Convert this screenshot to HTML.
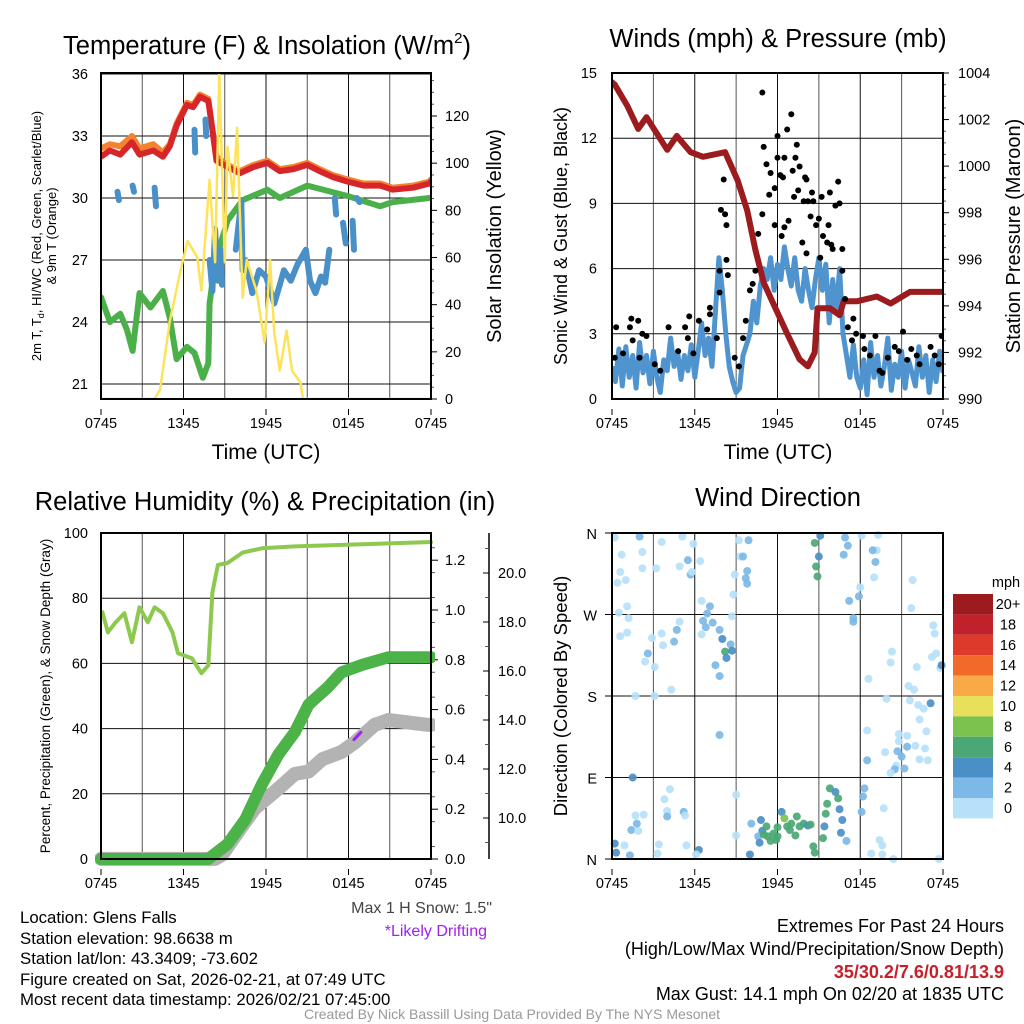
<!DOCTYPE html>
<html><head><meta charset="utf-8"><style>
html,body{margin:0;padding:0;background:#fff}
svg{display:block;font-family:"Liberation Sans",Arial,sans-serif}
</style></head><body>
<svg id="fig" width="1024" height="1024" viewBox="0 0 1024 1024" xmlns="http://www.w3.org/2000/svg">
<defs>
<clipPath id="c1"><rect x="101" y="73" width="330" height="326"/></clipPath>
<clipPath id="c2"><rect x="612" y="73" width="331" height="326"/></clipPath>
<clipPath id="c3"><rect x="95" y="533" width="340" height="333"/></clipPath>
<clipPath id="c4"><rect x="606" y="527" width="343" height="338"/></clipPath>
</defs>
<!-- titles -->
<text x="267" y="54" font-size="25.5" text-anchor="middle">Temperature (F) &amp; Insolation (W/m<tspan font-size="15" dy="-11">2</tspan><tspan dy="11">)</tspan></text>
<text x="778" y="47" font-size="25.5" text-anchor="middle">Winds (mph) &amp; Pressure (mb)</text>
<text x="265" y="510" font-size="25.5" text-anchor="middle">Relative Humidity (%) &amp; Precipitation (in)</text>
<text x="778" y="506" font-size="25.5" text-anchor="middle">Wind Direction</text>
<!-- axis titles -->
<text x="266" y="459" font-size="21" text-anchor="middle">Time (UTC)</text>
<text x="778" y="459" font-size="21" text-anchor="middle">Time (UTC)</text>
<text transform="translate(41,236) rotate(-90)" font-size="13" text-anchor="middle">2m T, T<tspan font-size="9" dy="3">d</tspan><tspan dy="-3">, HI/WC (Red, Green, Scarlet/Blue)</tspan></text>
<text transform="translate(56,236) rotate(-90)" font-size="13" text-anchor="middle">&amp; 9m T (Orange)</text>
<text transform="translate(501,236) rotate(-90)" font-size="20" text-anchor="middle">Solar Insolation (Yellow)</text>
<text transform="translate(567,236) rotate(-90)" font-size="18" text-anchor="middle">Sonic Wind &amp; Gust (Blue, Black)</text>
<text transform="translate(1020,236) rotate(-90)" font-size="20" text-anchor="middle">Station Pressure (Maroon)</text>
<text transform="translate(50,696) rotate(-90)" font-size="13.5" text-anchor="middle">Percent, Precipitation (Green), &amp; Snow Depth (Gray)</text>
<text transform="translate(567,696) rotate(-90)" font-size="18.5" text-anchor="middle">Direction (Colored By Speed)</text>
<!-- notes -->
<text x="492" y="913" font-size="16" fill="#444" text-anchor="end">Max 1 H Snow: 1.5"</text>
<text x="487" y="936" font-size="16" fill="#a020f0" text-anchor="end">*Likely Drifting</text>
<g font-size="16.8">
<text x="20" y="923">Location: Glens Falls</text>
<text x="20" y="944">Station elevation: 98.6638 m</text>
<text x="20" y="964">Station lat/lon: 43.3409; -73.602</text>
<text x="20" y="985">Figure created on Sat, 2026-02-21, at 07:49 UTC</text>
<text x="20" y="1005">Most recent data timestamp: 2026/02/21 07:45:00</text>
</g>
<g font-size="18" text-anchor="end">
<text x="1004" y="932">Extremes For Past 24 Hours</text>
<text x="1004" y="955">(High/Low/Max Wind/Precipitation/Snow Depth)</text>
<text x="1004" y="978" fill="#c8202a" font-weight="bold">35/30.2/7.6/0.81/13.9</text>
<text x="1004" y="1000">Max Gust: 14.1 mph On 02/20 at 1835 UTC</text>
</g>
<text x="512" y="1019" font-size="14" fill="#999" text-anchor="middle">Created By Nick Bassill Using Data Provided By The NYS Mesonet</text>
</svg>
<script>
// ---------- data ----------
const timeTickLabels = ["0745","1345","1945","0145","0745"];
const timeTickHours = [0,6,12,18,24];
const tempTicks = [21,24,27,30,33,36];
const solarTicks = [0,20,40,60,80,100,120];
const windTicks = [0,3,6,9,12,15];
const pressTicks = [990,992,994,996,998,1000,1002,1004];
const rhTicks = [0,20,40,60,80,100];
const precipTicks = [0,0.2,0.4,0.6,0.8,1.0,1.2];
const snowTicks = [10,12,14,16,18,20];
const dirTickLabels = ["N","E","S","W","N"];
const dirTickDeg = [0,90,180,270,360];

const redT = [0,0.65,1.4,2.25,2.8,3.8,4.5,5.0,5.5,6.25,6.7,7.2,7.8,8.1,8.4,9.2,10.1,11.1,12.1,13.0,14.0,15.0,15.9,16.9,17.9,19.1,20.3,21.2,22.7,23.9,24];
const redV = [32.0,32.3,32.1,32.7,32.1,32.3,32.0,32.5,33.5,34.5,34.4,34.9,34.7,33.3,31.8,31.5,31.2,31.5,31.7,31.3,31.4,31.6,31.3,31.0,30.8,30.6,30.6,30.4,30.5,30.7,30.8];
const orangeV = [32.4,32.6,32.5,33.0,32.4,32.6,32.2,32.6,33.6,34.6,34.5,35.0,34.8,33.3,32.0,31.6,31.3,31.6,31.8,31.4,31.5,31.7,31.4,31.1,30.9,30.7,30.7,30.5,30.6,30.8,30.9];
const greenT = [0,0.65,1.4,1.9,2.3,2.8,3.6,4.5,5.0,5.5,6.25,6.8,7.4,7.8,7.9,8.3,9.2,10.3,12.1,13.0,15.0,17.9,20.3,21.2,23.9,24];
const greenV = [25.2,24.0,24.4,23.6,22.6,25.4,24.7,25.5,24.2,22.2,22.8,22.5,21.3,22.0,24.9,26.9,28.9,29.9,30.4,30.0,30.6,30.1,29.6,29.8,30.0,30.0];
const blueT = [1.2,1.3,null,2.3,2.4,null,3.9,4.0,null,6.8,6.85,null,7.6,7.65,null,7.9,8.1,8.3,8.5,8.7,8.8,null,9.8,10.2,10.3,10.5,11.0,11.5,12.0,12.6,13.0,13.3,13.8,14.3,14.9,15.2,15.6,16.0,16.3,16.6,null,17.0,17.1,null,17.6,17.8,null,18.3,18.4,null,18.6,18.8];
const blueV = [30.3,29.9,null,30.6,30.3,null,30.5,29.6,null,33.3,32.2,null,33.8,33.0,null,27.0,25.5,28.5,26.0,27.5,25.8,null,27.5,29.9,26.5,27.0,25.4,26.5,26.2,24.9,25.8,26.5,26.0,26.8,27.5,26.0,25.4,26.2,25.9,27.5,null,30.0,29.2,null,28.8,27.8,null,28.9,27.5,null,30.0,29.8];
const solarT = [0,3.9,4.3,5.0,5.8,6.3,7.0,7.3,7.9,8.3,8.6,9.0,9.2,9.6,9.9,10.3,10.6,11.3,11.9,12.3,12.6,13.0,13.5,13.9,14.5,14.7,24];
const solarV = [0,0,4,33,55,67,60,46,93,58,138,58,107,86,115,43,59,46,24,59,28,12,29,12,7,0,0];

const windV = [1.5,0.8,2.3,0.6, 2.4,1.0,2.0,0.5, 2.6,1.2,2.0,0.7, 2.2,1.0,0.3,1.8, 1.3,2.8,1.5,2.2, 0.9,2.0,1.3,2.5, 1.0,2.2,3.5,2.0, 2.8,1.5,4.0,6.5, 5.0,3.0,1.5,0.8, 0.3,0.5,2.0,2.5, 3.0,4.5,3.5,5.2, 6.0,5.5,6.5,5.0, 6.2,5.5,7.0,6.0, 5.2,6.5,5.0,4.5, 6.0,5.0,4.2,5.5, 6.5,5.0,6.2,3.5, 5.5,4.0,6.0,3.0, 2.0,1.0,2.5,1.0, 0.5,1.8,0.2,2.6, 1.0,2.0,0.6,1.5, 2.8,0.4,1.6,1.0, 2.2,0.5,1.8,1.2, 0.6,2.4,1.0,2.0, 0.3,1.8,0.8,2.2, 1.2];
const gustT = [0.3,0.2,0.8,1.3,1.4,1.9,1.5,2.2,2.5,2.0,3.1,3.5,4.1,4.8,5.3,5.6,5.5,6.3,5.9,6.9,7.1,7.1,7.6,7.8,7.8,7.9,8.1,8.2,8.3,8.3,8.4,8.9,9.2,9.5,9.7,10.0,10.2,10.4,10.6,10.9,10.9,11.0,11.2,11.4,11.5,11.8,11.8,12.0,12.0,12.2,12.3,12.4,12.5,12.5,12.7,12.8,13.0,13.1,13.2,13.3,13.4,13.5,13.6,13.8,13.9,14.0,14.1,14.1,14.2,14.4,14.5,14.6,14.8,15.0,15.1,15.2,15.3,15.6,15.7,15.8,15.9,16.0,16.2,16.4,16.5,16.7,16.7,16.9,17.1,17.5,17.4,17.7,18.2,18.3,18.7,19.1,19.4,19.6,20.0,20.5,20.8,21.1,21.4,21.7,22.1,22.3,23.1,23.4,23.7,23.9];
const gustV = [3.3,1.9,2.1,3.3,3.7,3.6,2.7,3.0,2.9,1.9,1.6,1.3,3.3,2.2,3.3,3.8,2.8,3.6,2.1,3.2,4.2,3.9,2.8,4.9,5.9,8.7,10.1,8.5,8.0,6.4,5.7,1.9,1.5,2.8,3.6,5.0,5.3,5.9,7.6,8.5,14.1,11.6,10.8,9.4,10.4,8.0,9.7,11.1,12.1,10.3,7.5,10.2,7.9,11.1,12.4,8.2,13.1,10.5,9.3,11.1,11.7,9.6,10.7,7.2,9.1,10.2,6.7,10.1,9.1,8.4,9.5,9.1,8.0,8.3,6.5,9.3,7.5,7.2,8.0,9.5,7.1,6.9,8.9,10.0,9.0,6.9,5.9,4.6,3.3,3.7,2.7,3.0,2.9,2.3,2.0,2.9,1.3,1.2,1.9,2.4,2.2,3.1,1.8,2.3,2.0,1.6,2.4,2.0,1.6,2.9];
const pressT = [0,0.2,1.1,1.9,2.5,4.0,4.7,5.7,6.6,8.2,9.1,9.8,10.4,11.0,12.0,12.7,13.6,14.2,14.7,14.9,15.8,16.5,16.8,17.8,19.2,20.2,21.6,24];
const pressV = [1003.6,1003.5,1002.6,1001.6,1002.1,1000.7,1001.3,1000.6,1000.4,1000.6,999.4,998.1,996.4,995.0,993.7,992.8,991.7,991.4,992.0,993.9,993.9,993.6,994.2,994.2,994.4,994.1,994.6,994.6];

const rhT = [0.1,0.5,1.0,1.7,2.25,2.8,3.4,3.9,4.5,5.2,5.6,6.6,7.3,7.8,8.1,8.5,9.2,10.3,11.7,14.1,23.8,24];
const rhV = [75.7,69.5,72.3,75.4,66.5,77.2,72.6,77.2,75.4,69.5,63.1,61.6,57.0,59.4,81.8,90.2,90.8,94.0,95.3,95.9,97.2,97.2];
const precipT = [0,7.8,9.2,10.5,11.7,12.9,14.1,15.1,16.5,17.5,19.0,20.9,23.8,24];
const precipV = [0,0,0.06,0.16,0.30,0.42,0.51,0.62,0.69,0.75,0.78,0.81,0.81,0.81];
const snowT = [0,8.3,8.8,10.3,11.2,12.7,14.1,15.1,16.1,17.5,18.5,19.9,20.9,23.8,24];
const snowV = [8.33,8.33,8.5,9.7,10.4,11.1,11.8,11.9,12.4,12.7,13.1,13.8,14.0,13.8,13.8];
const driftT = [18.4,18.9];
const driftV = [13.2,13.5];

const dirT = [0.2,2.0,0.7,2.2,3.6,5.1,5.9,0.6,0.4,1.0,2.2,3.2,4.9,5.5,5.7,5.8,6.4,9.2,9.9,9.3,9.5,8.9,9.8,9.7,9.8,8.8,1.1,0.5,1.2,0.6,1.1,6.5,7.1,6.9,6.6,7.3,6.8,7.8,8.0,8.6,8.2,8.3,8.7,6.5,7.5,7.8,8.7,2.9,2.6,2.4,3.1,3.6,3.7,4.5,4.7,4.9,4.3,1.7,3.1,7.8,1.5,4.2,3.8,4.0,4.0,5.2,5.3,1.7,2.3,1.8,1.4,1.9,0.2,0.9,0.3,1.3,3.4,3.3,5.4,6.3,6.1,9.0,9.0,10.0,10.1,10.8,10.9,10.6,10.7,11.2,11.3,11.7,11.9,12.0,12.3,12.5,12.7,12.9,13.0,13.3,13.4,13.6,13.9,14.2,14.4,14.6,14.7,11.0,11.5,12.0,15.3,15.4,15.5,15.6,15.8,16.2,16.4,16.5,16.7,16.6,17.0,18.3,18.2,18.1,19.7,19.4,19.6,18.8,19.6,20.4,23.7,14.7,15.1,15.0,14.8,14.9,16.9,17.1,16.8,18.1,19.3,19.2,18.9,19.1,19.0,18.0,17.9,17.2,17.5,17.5,21.8,21.7,20.3,20.2,22.1,18.6,21.5,21.9,19.9,21.6,22.2,22.6,23.1,22.3,22.8,20.8,21.4,18.5,20.8,22.0,21.4,20.7,21.0,19.8,22.7,22.3,22.9,20.6,21.2,20.5,20.2,18.5,23.3,23.4,23.2,23.5,23.8,23.9];
const dirDeg = [355,356,336,339,350,356,348,317,305,308,321,321,323,330,314,317,329,352,352,334,334,314,318,310,304,292,279,272,266,246,250,285,279,271,263,261,256,253,243,237,229,222,230,248,214,202,268,244,227,218,212,249,236,240,253,262,187,180,180,137,90,77,66,53,47,52,48,48,49,39,32,31,17,15,7,4,16,6,15,10,5,71,26,5,39,43,31,25,18,36,25,28,21,35,52,45,36,32,39,26,47,36,39,37,38,14,7,27,20,25,23,36,50,61,78,74,67,55,43,29,20,78,69,52,56,21,15,6,5,0,0,349,357,334,323,312,355,346,336,357,358,341,341,328,311,300,290,285,262,266,308,277,229,217,212,199,191,187,177,175,170,166,172,154,141,138,136,142,130,125,124,119,113,118,122,110,109,103,100,99,95,109,258,249,223,227,211,214];
const dirSpd = [1,3,1,1,1,1,1,1,1,1,1,1,1,3,3,1,1,1,3,1,3,1,3,3,3,1,1,1,1,1,1,1,3,3,3,3,3,3,5,3,7,5,5,1,3,3,1,1,3,1,1,1,1,3,3,1,1,1,1,3,5,1,1,1,3,3,1,1,1,3,3,1,5,1,5,3,1,1,1,5,1,1,1,5,3,5,5,3,5,7,7,7,7,7,5,9,7,7,7,7,7,7,7,5,7,7,7,7,7,7,7,5,7,7,7,5,7,5,5,5,3,3,3,3,1,1,1,1,1,1,1,7,5,5,7,7,3,3,3,1,1,1,3,3,1,1,3,3,3,3,1,1,1,1,1,1,1,1,1,1,1,1,5,1,1,1,1,1,1,1,3,3,3,1,1,1,1,1,3,3,1,3,1,1,1,1,1,5];
const cbarLabels = ["20+","18","16","14","12","10","8","6","4","2","0"];
const cbarColors = ["#9b1b1e","#c0222b","#de3a2b","#f26a2a","#f9a948","#e8e05a","#7bc24f","#4ba874","#4a8fc6","#7cb9e6","#b6e1f8"];

// ---------- scales ----------
const xs1 = t => 101 + t/24*330;
const xs2 = t => 612 + t/24*331;
const yT = v => 74 + (36 - v)*62/3;
const ySol = s => 399 - s*283/120;
const yW = v => 399 - v*326/15;
const yPr = p => 399 - (p - 990)*326/14;
const yRH = r => 859 - r*3.26;
const yPc = p => 859 - p*249;
const ySn = s => 818 - (s - 10)*24.5;
const yDir = d => 859 - d*326/360;
const spdColor = s => cbarColors[10 - Math.min(10, Math.floor(s/2))];

const NS = "http://www.w3.org/2000/svg";
const svg = document.getElementById("fig");
function mk(tag, attrs, parent){
  const e = document.createElementNS(NS, tag);
  for (const k in attrs) e.setAttribute(k, attrs[k]);
  (parent || svg).appendChild(e);
  return e;
}
function pathD(ts, vs, fx, fy){
  let d = "", pen = false;
  for (let i=0;i<ts.length;i++){
    if (ts[i]===null || vs[i]===null){ pen=false; continue; }
    d += (pen ? "L" : "M") + fx(ts[i]).toFixed(1) + "," + fy(vs[i]).toFixed(1);
    pen = true;
  }
  return d;
}
function lbl(x, y, s, anchor, size, fill){
  const t = mk("text", {x:x, y:y, "font-size":size||14.5, "text-anchor":anchor||"middle", fill:fill||"#000"});
  t.textContent = s;
  return t;
}
function line(x1,y1,x2,y2,stroke,w){
  return mk("line",{x1:x1,y1:y1,x2:x2,y2:y2,stroke:stroke||"#000","stroke-width":w||1});
}

// ---------- grids & frames ----------
function timeGrid(x0, w, yTop, yBot, name){
  const g = mk("g", {});
  
  
  for (let k=1;k<8;k++){
    const x = x0 + k*w/8;
    mk("line",{x1:x,y1:yTop,x2:x,y2:yBot,stroke:(k%2? "#555":"#111"),"stroke-width":1},g);
  }
  return g;
}
function timeLabels(fx, y, name){
  for (let i=0;i<timeTickHours.length;i++){
    const t = lbl(fx(timeTickHours[i]), y, timeTickLabels[i], "middle", 14.5);
    
    
    line(fx(timeTickHours[i]), y-19, fx(timeTickHours[i]), y-13, "#000", 1);
  }
}

// Panel 1
timeGrid(101,330,73,399,"temperature-vertical-grid");
tempTicks.forEach(v=>{
  const gl = line(101,yT(v),431,yT(v),"#111",1);
  
  
  const t = lbl(88, yT(v)+5, String(v), "end", 14.5);
  
  
});
solarTicks.forEach(v=>{
  line(431,ySol(v),437,ySol(v));
  const t = lbl(445, ySol(v)+5, String(v), "start", 14.5);
  
  
});
for (let v=5; v<140; v+=5){ if (v%20) line(431,ySol(v),434,ySol(v),"#555",1); }
timeLabels(xs1, 428, "temperature-time-tick-label");

const g1 = mk("g", {"clip-path":"url(#c1)"});


const sOr = mk("path",{d:pathD(redT,orangeV,xs1,yT),fill:"none",stroke:"#f4822f","stroke-width":6,"stroke-linejoin":"round","stroke-linecap":"round"},g1);


const sRed = mk("path",{d:pathD(redT,redV,xs1,yT),fill:"none",stroke:"#d7262a","stroke-width":6,"stroke-linejoin":"round","stroke-linecap":"round"},g1);


const sGr = mk("path",{d:pathD(greenT,greenV,xs1,yT),fill:"none",stroke:"#4bb04a","stroke-width":6,"stroke-linejoin":"round","stroke-linecap":"round"},g1);


const sBl = mk("path",{d:pathD(blueT,blueV,xs1,yT),fill:"none",stroke:"#4a90c8","stroke-width":6,"stroke-linejoin":"round","stroke-linecap":"round"},g1);


const sYl = mk("path",{d:pathD(solarT,solarV,xs1,ySol),fill:"none",stroke:"#fde35a","stroke-width":2.5,"stroke-linejoin":"round"},g1);


const f1 = mk("rect",{x:101,y:73,width:330,height:326,fill:"none",stroke:"#000","stroke-width":2});



// Panel 2
timeGrid(612,331,73,399,"winds-vertical-grid");
windTicks.forEach(v=>{
  const gl = line(612,yW(v),943,yW(v),"#111",1);
  
  
  const t = lbl(597, yW(v)+5, String(v), "end", 14.5);
  
  
});
pressTicks.forEach(v=>{
  line(943,yPr(v),949,yPr(v));
  const t = lbl(958, yPr(v)+5, String(v), "start", 14.5);
  
  
});
for (let v=990.5; v<1004; v+=0.5){ if ((v*2)%4) line(943,yPr(v),946,yPr(v),"#555",1); }
timeLabels(xs2, 428, "winds-time-tick-label");
const windT = windV.map((_,i)=>i*0.25);
const g2 = mk("g", {"clip-path":"url(#c2)"});


const sW = mk("path",{d:pathD(windT,windV,xs2,yW),fill:"none",stroke:"#4f94cf","stroke-width":5,"stroke-linejoin":"round"},g2);


const sP = mk("path",{d:pathD(pressT,pressV,xs2,yPr),fill:"none",stroke:"#9b1b1e","stroke-width":6,"stroke-linejoin":"round","stroke-linecap":"round"},g2);


for (let i=0;i<gustT.length;i++){
  const c = mk("circle",{cx:xs2(gustT[i]),cy:yW(gustV[i]),r:3,fill:"#000"},g2);
  
  
}
const f2 = mk("rect",{x:612,y:73,width:331,height:326,fill:"none",stroke:"#000","stroke-width":2});



// Panel 3
timeGrid(101,330,533,859,"humidity-vertical-grid");
rhTicks.forEach(v=>{
  const gl = line(101,yRH(v),431,yRH(v),"#111",1);
  
  
  const t = lbl(88, yRH(v)+5, String(v), "end", 14.5);
  
  
});
precipTicks.forEach(v=>{
  line(431,yPc(v),438,yPc(v));
  const t = lbl(445, yPc(v)+5, v.toFixed(1), "start", 14.5);
  
  
});
for (let v=0.05; v<1.3; v+=0.1){ line(431,yPc(v),435,yPc(v),"#555",1); }
const snAx = line(489,533,489,859,"#000",1.5);


snowTicks.forEach(v=>{
  line(483,ySn(v),489,ySn(v));
  const t = lbl(498, ySn(v)+5, v.toFixed(1), "start", 14.5);
  
  
});
for (let v=9; v<22; v+=2){ line(485,ySn(v),489,ySn(v),"#555",1); }
timeLabels(xs1, 888, "humidity-time-tick-label");
const g3 = mk("g", {"clip-path":"url(#c3)"});


const sSn = mk("path",{d:pathD(snowT,snowV,xs1,ySn),fill:"none",stroke:"#b3b3b3","stroke-width":14,"stroke-linejoin":"round","stroke-linecap":"round"},g3);


const sPc = mk("path",{d:pathD(precipT,precipV,xs1,yPc),fill:"none",stroke:"#4bb347","stroke-width":12,"stroke-linejoin":"round","stroke-linecap":"round"},g3);


const sRH = mk("path",{d:pathD(rhT,rhV,xs1,yRH),fill:"none",stroke:"#8dc94f","stroke-width":4,"stroke-linejoin":"round","stroke-linecap":"round"},g3);


const sDr = mk("path",{d:pathD(driftT,driftV,xs1,ySn),fill:"none",stroke:"#a020f0","stroke-width":3,"stroke-linecap":"round"},g3);


const f3 = mk("rect",{x:101,y:533,width:330,height:326,fill:"none",stroke:"#000","stroke-width":2});



// Panel 4
timeGrid(612,331,533,859,"direction-vertical-grid");
dirTickDeg.forEach((d,i)=>{
  const gl = line(612,yDir(d),943,yDir(d),"#111",1);
  
  
  line(605,yDir(d),612,yDir(d));
  const t = lbl(597, yDir(d)+6, dirTickLabels[i], "end", 14.5);
  
  
});
timeLabels(xs2, 888, "direction-time-tick-label");
const g4 = mk("g", {"clip-path":"url(#c4)"});


for (let i=0;i<dirT.length;i++){
  const c = mk("circle",{cx:xs2(dirT[i]),cy:yDir(dirDeg[i]),r:4,fill:spdColor(dirSpd[i]),"fill-opacity":0.92},g4);
  
  
}
const f4 = mk("rect",{x:612,y:533,width:331,height:326,fill:"none",stroke:"#000","stroke-width":2});



// colorbar
const cbT = lbl(1006, 587, "mph", "middle", 14.5);


for (let i=0;i<cbarColors.length;i++){
  const r = mk("rect",{x:953,y:594+i*20.4,width:40,height:20.4,fill:cbarColors[i]});
  
  
  const t = lbl(1008, 594+i*20.4+15, cbarLabels[i], "middle", 14.5);
  
  
}
</script>
</body></html>
